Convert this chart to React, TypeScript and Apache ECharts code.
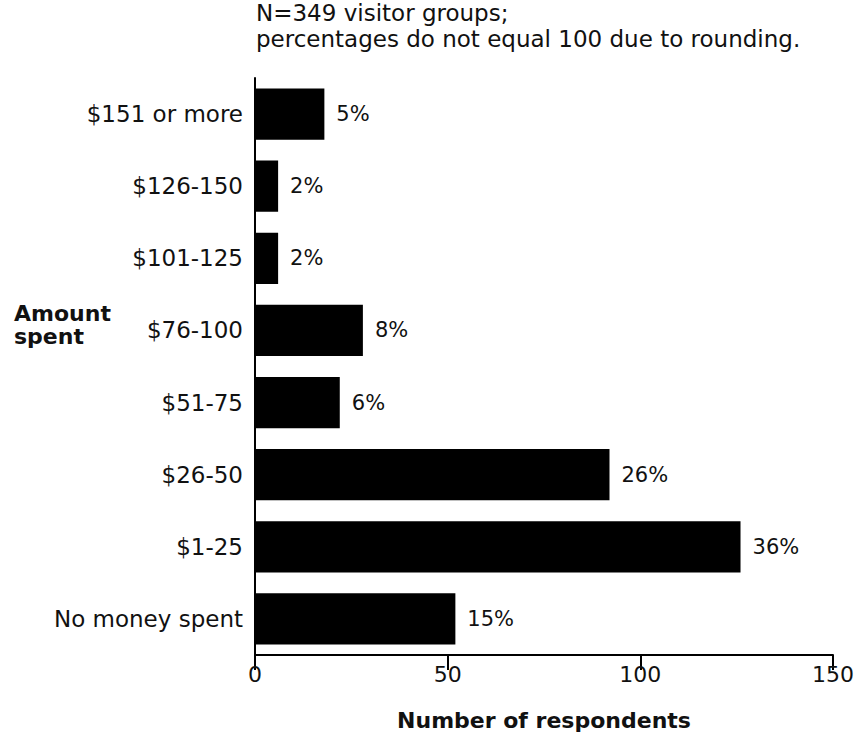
import React, { useEffect, useRef } from "react";
import * as echarts from "echarts";

const categories = [
  "$151 or more",
  "$126-150",
  "$101-125",
  "$76-100",
  "$51-75",
  "$26-50",
  "$1-25",
  "No money spent",
];
const respondents = [18, 6, 6, 28, 22, 92, 126, 52];
const percentLabels = ["5%", "2%", "2%", "8%", "6%", "26%", "36%", "15%"];
const xTicks = [0, 50, 100, 150];
const noteLines = ["N=349 visitor groups;", "percentages do not equal 100 due to rounding."];

const FONT = "'DejaVu Sans', 'Liberation Sans', Arial, sans-serif";

export default function App() {
  const ref = useRef<HTMLDivElement>(null);
  useEffect(() => {
    if (!ref.current) return;
    const chart = echarts.init(ref.current, null, { renderer: "svg" });
    chart.setOption({
      animation: false,
      backgroundColor: "#ffffff",
      grid: { left: 255, right: 29, top: 78, bottom: 82, containLabel: false },
      graphic: [
        {
          type: "text",
          left: 256,
          top: 0,
          style: {
            text: noteLines.join("\n"),
            font: `23px ${FONT}`,
            fill: "#111",
            lineHeight: 26,
          },
        },
        {
          type: "text",
          left: 14,
          top: 302,
          style: {
            text: "Amount\nspent",
            font: `bold 22px ${FONT}`,
            fill: "#111",
            lineHeight: 23,
          },
        },
      ],
      xAxis: {
        type: "value",
        min: xTicks[0],
        max: xTicks[xTicks.length - 1],
        interval: 50,
        name: "Number of respondents",
        nameLocation: "middle",
        nameGap: 54,
        nameTextStyle: { fontFamily: FONT, fontWeight: "bold", fontSize: 22, color: "#111" },
        axisLine: { show: true, lineStyle: { color: "#000", width: 2 } },
        axisTick: { show: true, length: 15, inside: false, lineStyle: { color: "#000", width: 2 } },
        axisLabel: { fontFamily: FONT, fontSize: 22, color: "#111", margin: 8 },
        splitLine: { show: false },
      },
      yAxis: {
        type: "category",
        data: categories,
        inverse: true,
        axisLine: { show: true, lineStyle: { color: "#000", width: 2 } },
        axisTick: { show: false },
        axisLabel: { fontFamily: FONT, fontSize: 23, color: "#111", margin: 12 },
      },
      series: [
        {
          type: "bar",
          data: respondents,
          barCategoryGap: "29%",
          itemStyle: { color: "#000" },
          label: {
            show: true,
            position: "right",
            distance: 12,
            fontFamily: FONT,
            fontSize: 21,
            color: "#111",
            formatter: (p: any) => percentLabels[p.dataIndex],
          },
        },
      ],
    });
    return () => chart.dispose();
  }, []);
  return <div ref={ref} style={{ width: 862, height: 737, position: "absolute", left: 0, top: 0 }} />;
}
